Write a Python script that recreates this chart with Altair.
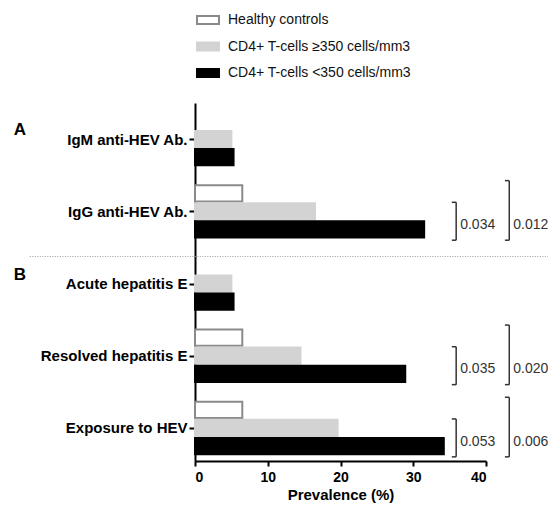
import json
import altair as alt
import pandas as pd

# ---- data ----
categories = ["IgM anti-HEV Ab.", "IgG anti-HEV Ab.", "Acute hepatitis E",
              "Resolved hepatitis E", "Exposure to HEV"]
series = ["Healthy controls", "CD4+ T-cells \u2265350 cells/mm3", "CD4+ T-cells <350 cells/mm3"]
healthy = [None, 6.5, None, 6.5, 6.5]
cd4_high = [5.0, 16.5, 5.0, 14.5, 19.6]
cd4_low = [5.3, 31.5, 5.3, 28.9, 34.2]
x_ticks = [0, 10, 20, 30, 40]

p_categories = ["IgG anti-HEV Ab.", "Resolved hepatitis E", "Exposure to HEV"]
p_high_vs_low = ["0.034", "0.035", "0.053"]
p_ctrl_vs_low = ["0.012", "0.020", "0.006"]

panel_labels = ["A", "B"]
panel_first = ["IgM anti-HEV Ab.", "Acute hepatitis E"]

# ---- layout helpers (slot units: 4 slots per category, 3 bars + gap) ----
SLOTS = 4
HALF = 0.45
FONT = "Liberation Sans"

rows = []
for ci, cat in enumerate(categories):
    for si, vals in enumerate([healthy, cd4_high, cd4_low]):
        v = vals[ci]
        if v is None:
            continue
        slot = SLOTS * ci + si
        rows.append({"category": cat, "series": series[si], "value": v,
                     "lo": slot - HALF, "hi": slot + HALF})
bars_df = pd.DataFrame(rows)

bracket_x = [35.9, 43.2]
brk = []
for ci_name, p1, p2 in zip(p_categories, p_high_vs_low, p_ctrl_vs_low):
    g = categories.index(ci_name)
    base = SLOTS * g
    brk.append({"xb": bracket_x[0], "top": base + 1 - 0.5, "bottom": base + 2 + 0.6,
                "p": p1, "ty": base + 1.75})
    brk.append({"xb": bracket_x[1], "top": base - 0.7, "bottom": base + 2 + 0.6,
                "p": p2, "ty": base + 1.75})
brk_df = pd.DataFrame(brk)
brk_df["xt"] = brk_df["xb"] - 0.6
brk_df["xtext"] = brk_df["xb"] + 0.55

sep_df = pd.DataFrame([{"x": -22.7, "x2": 48.5, "y": SLOTS * 2 - 0.5}])
panel_df = pd.DataFrame([{"label": l, "x": -24.9, "y": SLOTS * categories.index(c) + 0.5}
                         for l, c in zip(panel_labels, panel_first)])

yscale = alt.Scale(domain=[-1, 18.83], reverse=True, nice=False, zero=False)
xscale = alt.Scale(domain=[0, 40], nice=False)

label_arr = json.dumps(categories)
yaxis = alt.Axis(values=[SLOTS * i + 1 for i in range(len(categories))],
                 labelExpr=f"{label_arr}[round((datum.value - 1) / {SLOTS})]",
                 title=None, grid=False, domainColor="black", domainWidth=2,
                 tickColor="black", tickWidth=2, tickSize=6,
                 labelFont=FONT, labelFontWeight="bold", labelFontSize=15,
                 labelColor="black", labelPadding=2)
xaxis = alt.Axis(values=x_ticks, title="Prevalence (%)", grid=False,
                 domainColor="black", domainWidth=2, tickColor="black", tickWidth=2,
                 tickSize=5, labelFont=FONT, labelFontWeight="bold", labelFontSize=14,
                 labelColor="black", labelPadding=4, titleFont=FONT,
                 titleFontWeight="bold", titleFontSize=15, titleColor="black",
                 titlePadding=3)

legend = alt.Legend(orient="none", legendX=1, legendY=-95, title=None,
                    symbolType="M-1,-0.364H1V0.364H-1Z", symbolSize=484,
                    symbolStrokeWidth=2, labelFont=FONT, labelFontSize=14,
                    labelColor="#111", labelOffset=8, rowPadding=5.5,
                    labelLimit=400)

fill_scale = alt.Scale(domain=series, range=["white", "#d3d3d3", "black"])
stroke_scale = alt.Scale(domain=series, range=["#8a8a8a", "#d3d3d3", "black"])

bars = alt.Chart(bars_df).mark_bar(strokeWidth=2).encode(
    y=alt.Y("lo:Q", scale=yscale, axis=yaxis),
    y2="hi:Q",
    x=alt.X("value:Q", scale=xscale, axis=xaxis),
    x2=alt.datum(0),
    fill=alt.Fill("series:N", scale=fill_scale, legend=legend, sort=series),
    stroke=alt.Stroke("series:N", scale=stroke_scale, legend=legend, sort=series),
)

vline = alt.Chart(brk_df).mark_rule(color="#333", strokeWidth=1.5).encode(
    x="xb:Q", y="top:Q", y2="bottom:Q")
ttop = alt.Chart(brk_df).mark_rule(color="#333", strokeWidth=1.5).encode(
    x="xt:Q", x2="xb:Q", y="top:Q")
tbot = alt.Chart(brk_df).mark_rule(color="#333", strokeWidth=1.5).encode(
    x="xt:Q", x2="xb:Q", y="bottom:Q")
ptext = alt.Chart(brk_df).mark_text(align="left", baseline="middle", font=FONT,
                                    fontSize=14, color="#333").encode(
    x="xtext:Q", y="ty:Q", text="p:N")

sep = alt.Chart(sep_df).mark_rule(color="#9a9a9a", strokeWidth=1,
                                  strokeDash=[1, 1.5]).encode(
    x="x:Q", x2="x2:Q", y="y:Q")

panels = alt.Chart(panel_df).mark_text(align="left", baseline="middle", font=FONT,
                                       fontSize=17, fontWeight="bold",
                                       color="black").encode(
    x="x:Q", y="y:Q", text="label:N")

chart = alt.layer(sep, bars, vline, ttop, tbot, ptext, panels).properties(
    width=291, height=358,
    padding={"left": 187, "top": 95, "right": 62, "bottom": 44},
    autosize="none",
).configure_view(stroke=None)

chart.save("out.html", embed_options={"renderer": "svg", "actions": False})
